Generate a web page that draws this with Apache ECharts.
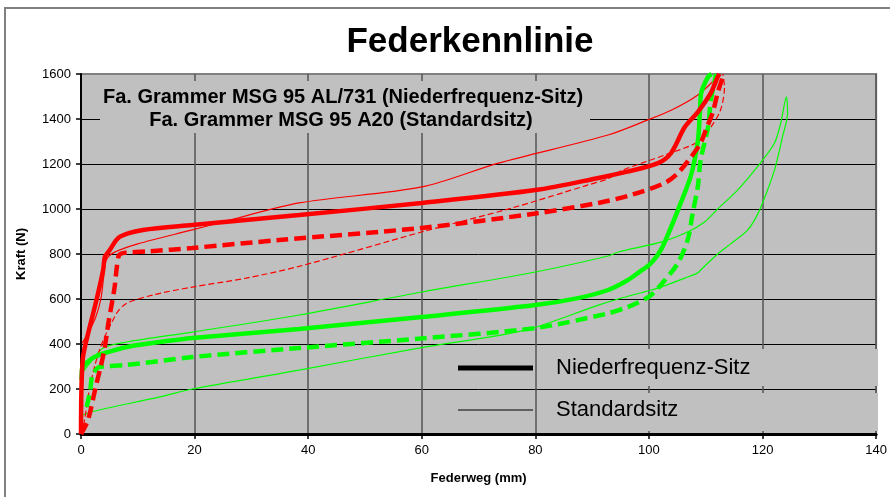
<!DOCTYPE html>
<html>
<head>
<meta charset="utf-8">
<script src="https://cdn.jsdelivr.net/npm/echarts@6/dist/echarts.min.js"></script>
<style>
  html, body { margin: 0; padding: 0; background: #fff; }
  #main { width: 890px; height: 497px; }
</style>
</head>
<body>
<div id="main"></div>
<script>
// Federweg (mm) / Kraft (N) pairs
var xMin = 0, xMax = 140, xStep = 20;
var yMin = 0, yMax = 1600, yStep = 200;

var redThickSolid = [[0,0],[0.3,330],[1.4,462],[2.6,582],[3.9,729],[4.2,787],[4.9,812],[6.8,876],[10.9,907],[19.6,929],
  [38.4,973],[60,1027],[80,1084],[91.1,1138],[96,1165],[101.6,1204],[103.9,1249],[106.3,1364],[108.6,1431],
  [110.9,1516],[112.1,1587],[112.4,1600]];
var redThickDashed = [[0,0],[1.2,60],[2.6,210],[4.0,360],[4.9,505],[5.9,650],[6.3,740],[6.7,795],[7.6,805],[12,812],
  [19.6,827],[34.9,862],[60,916],[80,980],[91.1,1027],[96.8,1062],[102.8,1116],[105.1,1160],[107.4,1231],
  [109.1,1293],[110,1351],[111.2,1427],[112.1,1516],[113,1587],[113.2,1600]];
var redThinSolid = [[0.2,404],[1.4,455],[2.6,520],[3.5,600],[4.0,700],[4.4,770],[5.6,804],[10,845],[19.6,907],
  [24.9,942],[38.4,1027],[60,1098],[73.5,1204],[92.8,1329],[99.8,1396],[104,1440],[108.6,1507],[112.6,1600]];
var redThinDashed = [[0,0],[0.6,60],[1.5,200],[2.5,310],[3.5,390],[4.5,450],[5.5,500],[6.5,545],[8.1,582],[13,620],
  [19.6,653],[29.1,693],[38.4,745],[60,898],[75.8,1004],[89.3,1107],[92.8,1135],[95.1,1170],[102.8,1240],
  [108.6,1298],[110.9,1364],[112.6,1440],[113.3,1542],[113,1600]];

var greenThickSolid = [[0.1,240],[0.2,290],[2.1,338],[4.2,360],[8.1,387],[13.9,409],[19.6,427],[38.4,467],[60,520],
  [80,573],[87.5,604],[92.8,640],[96,680],[98.1,716],[100.4,760],[102.1,818],[103.9,920],[105.6,1027],
  [107.4,1150],[108.6,1300],[109,1440],[109.2,1516],[110.4,1587],[111,1600]];
var greenThickDashed = [[1.0,120],[1.6,190],[2.0,260],[3.0,295],[3.9,300],[8.1,307],[19.6,342],[38.4,382],[60,425],
  [80,471],[92.8,536],[96,562],[98.1,584],[100.4,618],[102.8,684],[105.1,760],[106.8,862],[107.7,982],
  [108.6,1100],[109.1,1218],[110.4,1364],[110.9,1484],[111.6,1573],[111.8,1600]];
var greenThinLoop = [[0.2,271],[0.1,150],[0.2,84],[2.1,100],[13.9,165],[19.6,200],[38.4,284],[59.5,382],[78.2,462],
  [91.1,573],[94.6,600],[100.4,640],[102.1,653],[106.3,693],[108.6,716],[109.1,729],[112.1,800],[114.4,845],
  [117.4,907],[119.1,975],[120.4,1053],[122.1,1173],[123.5,1320],[124.4,1427],[124.2,1498],
  [123.2,1382],[122.1,1293],[119.6,1204],[115.6,1084],[112.1,1000],[109.8,942],[106.8,898],[102.1,853],
  [94.6,809],[92.8,791],[80,720],[60,631],[38.4,529],[19.6,453],[8.1,409],[3.9,382],[1.6,316],[0.2,271]];

var chartTitle = 'Federkennlinie';
var subTitle1 = 'Fa. Grammer MSG 95 AL/731 (Niederfrequenz-Sitz)';
var subTitle2 = 'Fa. Grammer MSG 95 A20 (Standardsitz)';
var legendNames = ['Niederfrequenz-Sitz', 'Standardsitz'];

var RED = '#ff0000', GREEN = '#00ff00';
var FONT = "'Liberation Sans', Arial, sans-serif";

function curve(data, color, width, dash) {
  return {
    type: 'line',
    data: data,
    showSymbol: false,
    smooth: 0.3,
    z: 3,
    lineStyle: { color: color, width: width, type: dash || 'solid', cap: 'butt' }
  };
}

var myChart = echarts.init(document.getElementById('main'));

var option = {
  animation: false,
  textStyle: { fontFamily: FONT },
  grid: {
    left: 81, right: 7, top: 74, bottom: 63,
    show: true,
    backgroundColor: '#c0c0c0',
    borderColor: '#808080',
    borderWidth: 2
  },
  xAxis: {
    type: 'value',
    min: xMin, max: xMax, interval: xStep,
    name: 'Federweg (mm)',
    nameLocation: 'middle',
    nameGap: 38,
    nameTextStyle: { fontFamily: FONT, fontSize: 13, fontWeight: 'bold', color: '#000' },
    axisLine: { show: true, lineStyle: { color: '#000', width: 3 } },
    axisTick: { show: true, length: 5, lineStyle: { color: '#000', width: 1.5 } },
    axisLabel: { color: '#000', fontSize: 13, margin: 10, fontFamily: FONT },
    splitLine: { show: true, lineStyle: { color: '#555', width: 1.5 } }
  },
  yAxis: {
    type: 'value',
    min: yMin, max: yMax, interval: yStep,
    name: 'Kraft (N)',
    nameLocation: 'middle',
    nameGap: 53,
    nameTextStyle: { fontFamily: FONT, fontSize: 13, fontWeight: 'bold', color: '#000' },
    axisLine: { show: true, lineStyle: { color: '#000', width: 2 } },
    axisTick: { show: true, length: 5, lineStyle: { color: '#000', width: 1.5 } },
    axisLabel: { color: '#000', fontSize: 13, margin: 10, fontFamily: FONT,
      formatter: function (v) { return String(v); } },
    splitLine: { show: true, showMaxLine: false, lineStyle: { color: '#000', width: 1 } }
  },
  graphic: [
    { type: 'rect', z: -10, shape: { x: 5, y: 8, width: 1000, height: 1000 },
      style: { fill: 'none', stroke: '#808080', lineWidth: 2 } },
    { type: 'text', x: 470, y: 42, z: 10,
      style: { text: chartTitle, fill: '#000', font: "bold 35px " + FONT, textAlign: 'center', textVerticalAlign: 'middle' } },
    // text box over the grid
    { type: 'rect', z: 5, shape: { x: 100, y: 81, width: 490, height: 52 }, style: { fill: '#c0c0c0' } },
    { type: 'text', x: 343, y: 97, z: 6,
      style: { text: subTitle1, fill: '#000', font: "bold 20px " + FONT, textAlign: 'center', textVerticalAlign: 'middle' } },
    { type: 'text', x: 341, y: 120, z: 6,
      style: { text: subTitle2, fill: '#000', font: "bold 20px " + FONT, textAlign: 'center', textVerticalAlign: 'middle' } },
    // legend box
    { type: 'rect', z: 5, shape: { x: 545, y: 349, width: 333, height: 37 }, style: { fill: '#c0c0c0' } },
    { type: 'rect', z: 5, shape: { x: 545, y: 393, width: 333, height: 38 }, style: { fill: '#c0c0c0' } },
    { type: 'line', z: 6, shape: { x1: 458, y1: 368, x2: 533, y2: 368 }, style: { stroke: '#000', lineWidth: 5 } },
    { type: 'text', x: 556, y: 368, z: 6,
      style: { text: legendNames[0], fill: '#000', font: "22px " + FONT, textVerticalAlign: 'middle' } },
    { type: 'line', z: 6, shape: { x1: 458, y1: 410, x2: 533, y2: 410 }, style: { stroke: '#000', lineWidth: 1 } },
    { type: 'text', x: 556, y: 410, z: 6,
      style: { text: legendNames[1], fill: '#000', font: "22px " + FONT, textVerticalAlign: 'middle' } }
  ],
  series: [
    curve(greenThinLoop, GREEN, 1.2),
    curve(redThinDashed, RED, 1.2, [6, 3]),
    curve(redThinSolid, RED, 1.2),
    curve(greenThickDashed, GREEN, 4.5, [12, 6]),
    curve(greenThickSolid, GREEN, 4.5),
    curve(redThickDashed, RED, 4.5, [12, 6]),
    curve(redThickSolid, RED, 4.5)
  ]
};

myChart.setOption(option);
</script>
</body>
</html>
